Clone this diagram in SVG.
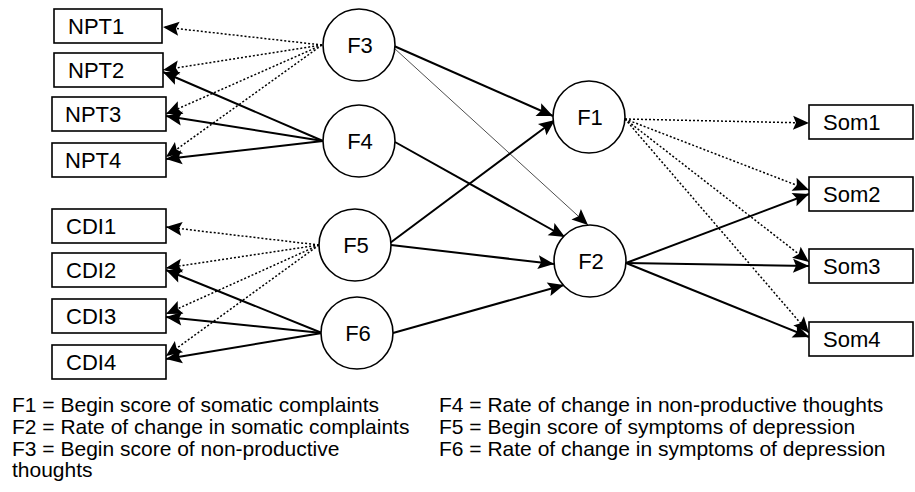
<svg xmlns="http://www.w3.org/2000/svg" width="915" height="492" viewBox="0 0 915 492">
<style>
  .box { fill: #fff; stroke: #000; stroke-width: 1.6; }
  .circ { fill: #fff; stroke: #000; stroke-width: 1.6; }
  .lbl { font-family: "Liberation Sans", Arial, sans-serif; font-size: 22px; fill: #000; }
  .flbl { font-family: "Liberation Sans", Arial, sans-serif; font-size: 22px; fill: #000; text-anchor: middle; }
  .leg { font-family: "Liberation Sans", Arial, sans-serif; font-size: 21px; fill: #000; }
  .solid { stroke: #000; stroke-width: 2; fill: none; marker-end: url(#arr); }
  .dot { stroke: #000; stroke-width: 1.5; stroke-dasharray: 2 2; fill: none; marker-end: url(#arr); }
  .thin { stroke: #000; stroke-width: 0.7; fill: none; marker-end: url(#arr); }
</style>
<defs>
  <marker id="arr" viewBox="-17 -8 18 16" markerWidth="18" markerHeight="16" refX="0" refY="0" orient="auto" markerUnits="userSpaceOnUse">
    <path d="M0,0 L-16,-7 L-13,0 L-16,7 Z" fill="#000"/>
  </marker>
</defs>

<g id="connectors">
  <path class="dot" d="M322,45 L163,27"/>
  <path class="dot" d="M322,45 L163,70"/>
  <path class="dot" d="M322,45 L166,114"/>
  <path class="dot" d="M322,45 L166,157"/>
  <path class="solid" d="M323,141 L163,72"/>
  <path class="solid" d="M323,141 L166,116"/>
  <path class="solid" d="M323,141 L166,159"/>

  <path class="dot" d="M319,245 L166,227"/>
  <path class="dot" d="M319,245 L166,268"/>
  <path class="dot" d="M319,245 L166,314"/>
  <path class="dot" d="M319,245 L166,356"/>
  <path class="solid" d="M322,333 L166,270"/>
  <path class="solid" d="M322,333 L166,317"/>
  <path class="solid" d="M322,333 L166,359"/>

  <path class="solid" d="M394,46 L553,116"/>
  <path class="thin" d="M394,48 L588,225"/>
  <path class="solid" d="M395,142 L565,237"/>
  <path class="solid" d="M390,243 L555,120"/>
  <path class="solid" d="M391,245 L554,264"/>
  <path class="solid" d="M393,333 L564,285"/>

  <path class="dot" d="M625,119 L809,123"/>
  <path class="dot" d="M625,119 L809,190"/>
  <path class="dot" d="M625,119 L809,262"/>
  <path class="dot" d="M625,119 L809,333"/>
  <path class="solid" d="M626,263 L809,194"/>
  <path class="solid" d="M626,263 L809,266"/>
  <path class="solid" d="M626,263 L809,337"/>
</g>

<g id="NPT1"><rect class="box" x="54" y="9" width="108" height="34"/><text class="lbl" x="68" y="34">NPT1</text></g>
<g id="NPT2"><rect class="box" x="54" y="53" width="109" height="34"/><text class="lbl" x="68" y="78">NPT2</text></g>
<g id="NPT3"><rect class="box" x="52" y="97" width="114" height="34"/><text class="lbl" x="65" y="122">NPT3</text></g>
<g id="NPT4"><rect class="box" x="52" y="143" width="114" height="34"/><text class="lbl" x="65" y="168">NPT4</text></g>

<g id="CDI1"><rect class="box" x="52" y="209" width="114" height="34"/><text class="lbl" x="66" y="234">CDI1</text></g>
<g id="CDI2"><rect class="box" x="52" y="253" width="114" height="34"/><text class="lbl" x="66" y="278">CDI2</text></g>
<g id="CDI3"><rect class="box" x="52" y="299" width="114" height="34"/><text class="lbl" x="66" y="324">CDI3</text></g>
<g id="CDI4"><rect class="box" x="52" y="345" width="114" height="34"/><text class="lbl" x="66" y="370">CDI4</text></g>

<g id="F3"><circle class="circ" cx="359" cy="45" r="36"/><text class="flbl" x="360" y="53">F3</text></g>
<g id="F4"><circle class="circ" cx="359" cy="141" r="36"/><text class="flbl" x="360" y="149">F4</text></g>
<g id="F5"><circle class="circ" cx="355" cy="245" r="36"/><text class="flbl" x="356" y="253">F5</text></g>
<g id="F6"><circle class="circ" cx="357" cy="333" r="36"/><text class="flbl" x="358" y="341">F6</text></g>
<g id="F1"><circle class="circ" cx="589" cy="117" r="36"/><text class="flbl" x="590" y="125">F1</text></g>
<g id="F2"><circle class="circ" cx="590" cy="261" r="36"/><text class="flbl" x="591" y="269">F2</text></g>

<g id="Som1"><rect class="box" x="809" y="105" width="104" height="34"/><text class="lbl" x="823" y="130">Som1</text></g>
<g id="Som2"><rect class="box" x="809" y="177" width="104" height="34"/><text class="lbl" x="823" y="202">Som2</text></g>
<g id="Som3"><rect class="box" x="809" y="249" width="104" height="34"/><text class="lbl" x="823" y="274">Som3</text></g>
<g id="Som4"><rect class="box" x="809" y="322" width="104" height="34"/><text class="lbl" x="823" y="347">Som4</text></g>

<g id="legend">
  <text class="leg" x="12" y="412">F1 = Begin score of somatic complaints</text>
  <text class="leg" x="12" y="434">F2 = Rate of change in somatic complaints</text>
  <text class="leg" x="12" y="456">F3 = Begin score of non-productive</text>
  <text class="leg" x="12" y="477">thoughts</text>
  <text class="leg" x="439" y="412">F4 = Rate of change in non-productive thoughts</text>
  <text class="leg" x="439" y="434">F5 = Begin score of symptoms of depression</text>
  <text class="leg" x="439" y="456">F6 = Rate of change in symptoms of depression</text>
</g>
</svg>
